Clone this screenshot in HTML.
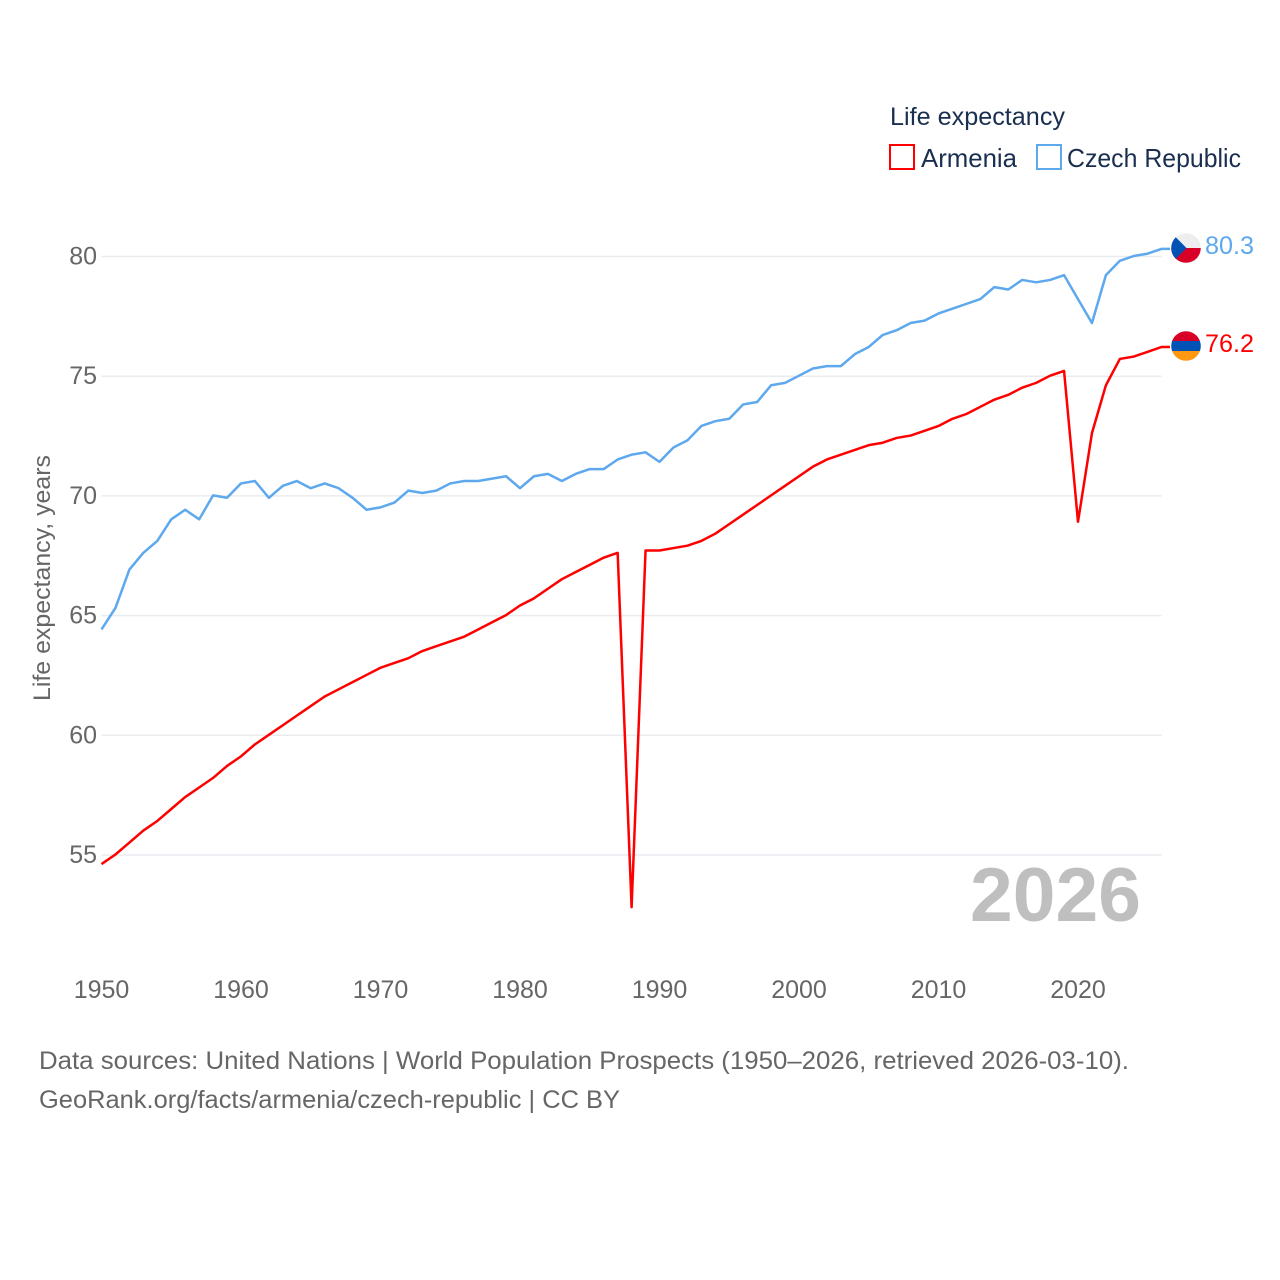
<!DOCTYPE html>
<html lang="en">
<head>
<meta charset="utf-8">
<title>Life expectancy: Armenia and Czech Republic</title>
<style>
html,body{margin:0;padding:0;background:#fff;}
svg{display:block;}
text{font-family:"Liberation Sans",sans-serif;}
</style>
</head>
<body>
<svg id="chart" xmlns="http://www.w3.org/2000/svg" width="1280" height="1280" viewBox="0 0 1280 1280">
  <rect width="1280" height="1280" fill="#ffffff"/>
  <defs>
    <clipPath id="clip-cz"><circle cx="1186" cy="248" r="14.8"/></clipPath>
    <clipPath id="clip-am"><circle cx="1186" cy="346" r="14.8"/></clipPath>
  </defs>
  <g id="grid"></g>
  <g id="yticks"></g>
  <g id="xticks"></g>
  <text transform="translate(50,701) rotate(-90)" font-size="24" fill="#666666" textLength="246" lengthAdjust="spacingAndGlyphs">Life expectancy, years</text>
  <text x="970" y="921" font-size="76" font-weight="bold" fill="#bfbfbf" textLength="171" lengthAdjust="spacingAndGlyphs">2026</text>
  <path id="line-armenia" fill="none" stroke="#ff0000" stroke-width="2.5" stroke-linejoin="round" transform="translate(0,-0.5)"/>
  <path id="line-czech" fill="none" stroke="#5ea8ee" stroke-width="2.5" stroke-linejoin="round" transform="translate(0,-0.5)"/>

  <g clip-path="url(#clip-cz)">
    <rect x="1171" y="233" width="30" height="15" fill="#eeeeee"/>
    <rect x="1171" y="248" width="30" height="15" fill="#d80027"/>
    <polygon points="1171,232.5 1186.5,248 1171,263.5" fill="#0052b4"/>
  </g>
  <g clip-path="url(#clip-am)">
    <rect x="1171" y="331" width="30" height="10" fill="#d80027"/>
    <rect x="1171" y="341" width="30" height="10" fill="#0052b4"/>
    <rect x="1171" y="351" width="30" height="10" fill="#ff9811"/>
  </g>
  <text id="label-czech" x="1205" y="254" font-size="25" fill="#5ea8ee" textLength="49" lengthAdjust="spacingAndGlyphs"></text>
  <text id="label-armenia" x="1205" y="352" font-size="25" fill="#ff0000" textLength="49" lengthAdjust="spacingAndGlyphs"></text>

  <g>
    <text x="890" y="125" font-size="25" fill="#1a2e4f" textLength="175" lengthAdjust="spacingAndGlyphs">Life expectancy</text>
    <rect x="890" y="145" width="24" height="24" fill="none" stroke="#ff0000" stroke-width="2"/>
    <text x="921" y="167" font-size="26" fill="#1a2e4f" textLength="96" lengthAdjust="spacingAndGlyphs">Armenia</text>
    <rect x="1037" y="145" width="24" height="24" fill="none" stroke="#5ea8ee" stroke-width="2"/>
    <text x="1067" y="167" font-size="26" fill="#1a2e4f" textLength="174" lengthAdjust="spacingAndGlyphs">Czech Republic</text>
  </g>

  <text x="39" y="1069" font-size="25" fill="#666666" textLength="1090" lengthAdjust="spacingAndGlyphs">Data sources: United Nations | World Population Prospects (1950–2026, retrieved 2026-03-10).</text>
  <text x="39" y="1108" font-size="25" fill="#666666" textLength="581" lengthAdjust="spacingAndGlyphs">GeoRank.org/facts/armenia/czech-republic | CC BY</text>
</svg>
<script>
const startYear = 1950;
const yTickValues = [55, 60, 65, 70, 75, 80];
const xTickValues = [1950, 1960, 1970, 1980, 1990, 2000, 2010, 2020];
const armeniaValues = [
  54.6,55.0,55.5,56.0,56.4,56.9,57.4,57.8,58.2,58.7,
  59.1,59.6,60.0,60.4,60.8,61.2,61.6,61.9,62.2,62.5,
  62.8,63.0,63.2,63.5,63.7,63.9,64.1,64.4,64.7,65.0,
  65.4,65.7,66.1,66.5,66.8,67.1,67.4,67.6,52.8,67.7,
  67.7,67.8,67.9,68.1,68.4,68.8,69.2,69.6,70.0,70.4,
  70.8,71.2,71.5,71.7,71.9,72.1,72.2,72.4,72.5,72.7,
  72.9,73.2,73.4,73.7,74.0,74.2,74.5,74.7,75.0,75.2,
  68.9,72.6,74.6,75.7,75.8,76.0,76.2
];
const czechValues = [
  64.4,65.3,66.9,67.6,68.1,69.0,69.4,69.0,70.0,69.9,
  70.5,70.6,69.9,70.4,70.6,70.3,70.5,70.3,69.9,69.4,
  69.5,69.7,70.2,70.1,70.2,70.5,70.6,70.6,70.7,70.8,
  70.3,70.8,70.9,70.6,70.9,71.1,71.1,71.5,71.7,71.8,
  71.4,72.0,72.3,72.9,73.1,73.2,73.8,73.9,74.6,74.7,
  75.0,75.3,75.4,75.4,75.9,76.2,76.7,76.9,77.2,77.3,
  77.6,77.8,78.0,78.2,78.7,78.6,79.0,78.9,79.0,79.2,
  78.2,77.2,79.2,79.8,80.0,80.1,80.3
];

const NS = 'http://www.w3.org/2000/svg';
function xScale(year) { return 101.5 + (year - 1950) * (1078 - 101.5) / 70; }
function yScale(v) { return 256.5 + (80 - v) * (855 - 256.5) / 25; }

const grid = document.getElementById('grid');
const yticks = document.getElementById('yticks');
yTickValues.forEach(function (v) {
  const line = document.createElementNS(NS, 'line');
  
  
  line.setAttribute('x1', 101.5);
  line.setAttribute('x2', xScale(2026));
  line.setAttribute('y1', yScale(v));
  line.setAttribute('y2', yScale(v));
  line.setAttribute('stroke', '#e9ecef');
  line.setAttribute('stroke-width', '1.5');
  grid.appendChild(line);
  const t = document.createElementNS(NS, 'text');
  
  
  t.setAttribute('x', 97);
  t.setAttribute('y', yScale(v) + 8);
  t.setAttribute('text-anchor', 'end');
  t.setAttribute('font-size', '25');
  t.setAttribute('fill', '#666666');
  t.textContent = String(v);
  yticks.appendChild(t);
});

const xticks = document.getElementById('xticks');
xTickValues.forEach(function (year) {
  const t = document.createElementNS(NS, 'text');
  
  
  t.setAttribute('x', xScale(year));
  t.setAttribute('y', 998);
  t.setAttribute('text-anchor', 'middle');
  t.setAttribute('font-size', '25');
  t.setAttribute('fill', '#666666');
  t.textContent = String(year);
  xticks.appendChild(t);
});

function linePath(values) {
  const points = values.map(function (v, i) {
    return (i ? 'L' : 'M') + xScale(startYear + i).toFixed(2) + ' ' + yScale(v).toFixed(2);
  }).join(' ');
  return points + ' H1170';
}
document.getElementById('line-armenia').setAttribute('d', linePath(armeniaValues));
document.getElementById('line-czech').setAttribute('d', linePath(czechValues));
document.getElementById('label-armenia').textContent = armeniaValues[armeniaValues.length - 1].toFixed(1);
document.getElementById('label-czech').textContent = czechValues[czechValues.length - 1].toFixed(1);
</script>
</body>
</html>
